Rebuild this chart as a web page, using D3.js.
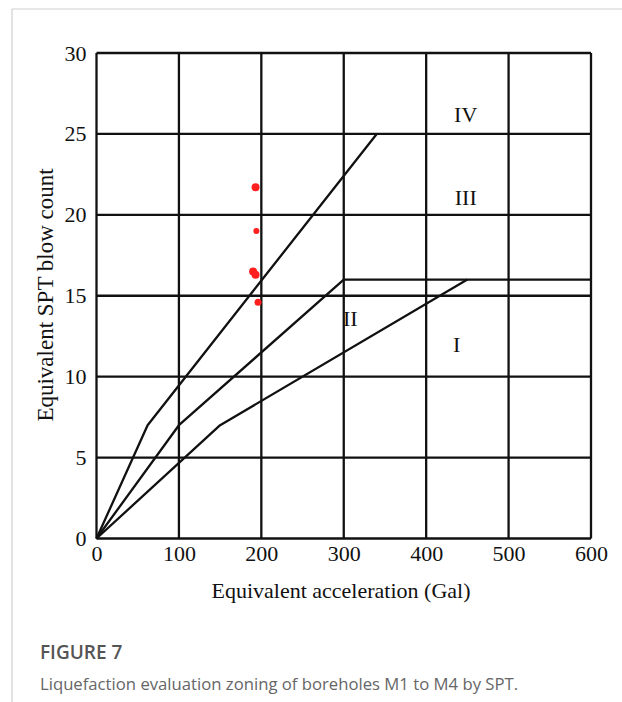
<!DOCTYPE html>
<html>
<head>
<meta charset="utf-8">
<script src="https://cdn.jsdelivr.net/npm/d3@7/dist/d3.min.js"></script>
<style>
  html, body { margin: 0; padding: 0; background: #fff; }
  svg { display: block; }
</style>
</head>
<body>
<svg id="chart" width="622" height="702"></svg>
<script>
// ---- data ----
const xTicks = [0, 100, 200, 300, 400, 500, 600];
const yTicks = [0, 5, 10, 15, 20, 25, 30];
const lineA = [[0, 0], [62, 7], [340, 25]];
const lineB = [[0, 0], [100, 7], [300, 16], [600, 16]];
const lineC = [[0, 0], [150, 7], [450, 16]];
const zoneNames = ["IV", "III", "II", "I"];
const zoneX = [448, 448, 308, 437];
const zoneY = [26.2, 21.1, 13.6, 12.0];
const pointX = [193, 194, 190, 193, 196];
const pointY = [21.7, 19.0, 16.5, 16.3, 14.6];
const pointR = [4, 3, 4, 4, 3.5];

// ---- layout ----
const svg = d3.select("#chart");
const L = 96.5, R = 591, T = 53, B = 538.5;
const x = d3.scaleLinear().domain([0, 600]).range([L, R]);
const y = d3.scaleLinear().domain([0, 30]).range([B, T]);
const serif = "'Liberation Serif', 'Times New Roman', serif";

// page frame
svg.append("line").attr("x1", 12).attr("y1", 9).attr("x2", 622).attr("y2", 9)
  .attr("stroke", "#cfcfcf").attr("stroke-width", 1.2);
svg.append("line").attr("x1", 12).attr("y1", 9).attr("x2", 12).attr("y2", 702)
  .attr("stroke", "#cfcfcf").attr("stroke-width", 1.2);

// grid
const g = svg.append("g");
g.selectAll(".vg").data(xTicks).enter().append("line")
  .attr("x1", d => x(d)).attr("x2", d => x(d)).attr("y1", y(0)).attr("y2", y(30))
  .attr("stroke", "#111").attr("stroke-width", 2.3);
g.selectAll(".hg").data(yTicks).enter().append("line")
  .attr("x1", x(0)).attr("x2", x(600)).attr("y1", d => y(d)).attr("y2", d => y(d))
  .attr("stroke", "#111").attr("stroke-width", 2.3);

// boundary lines
const line = d3.line().x(d => x(d[0])).y(d => y(d[1]));
[lineA, lineB, lineC].forEach(l => {
  g.append("path").attr("d", line(l)).attr("fill", "none")
    .attr("stroke", "#111").attr("stroke-width", 2.3).attr("stroke-linejoin", "round");
});

// axes (labels only)
const ax = svg.append("g").attr("transform", `translate(0,${B})`)
  .call(d3.axisBottom(x).tickValues(xTicks).tickSize(0).tickPadding(7).tickFormat(d3.format("d")));
ax.select(".domain").remove();
ax.selectAll("text").attr("font-family", serif).attr("font-size", 22).attr("fill", "#111");

const ay = svg.append("g").attr("transform", `translate(${L},0)`)
  .call(d3.axisLeft(y).tickValues(yTicks).tickSize(0).tickPadding(10).tickFormat(d3.format("d")));
ay.select(".domain").remove();
ay.selectAll("text").attr("font-family", serif).attr("font-size", 22).attr("fill", "#111");

// zone labels
svg.selectAll(".zone").data(zoneNames).enter().append("text")
  .attr("x", (d, i) => x(zoneX[i])).attr("y", (d, i) => y(zoneY[i]))
  .attr("text-anchor", "middle").attr("dominant-baseline", "central")
  .attr("font-family", serif).attr("font-size", 22).attr("fill", "#111")
  .text(d => d);

// points
svg.selectAll(".pt").data(pointX).enter().append("circle")
  .attr("cx", (d, i) => x(d)).attr("cy", (d, i) => y(pointY[i]))
  .attr("r", (d, i) => pointR[i]).attr("fill", "#ff1f1f");

// axis titles
svg.append("text").attr("x", 341).attr("y", 590)
  .attr("text-anchor", "middle").attr("dominant-baseline", "central")
  .attr("font-family", serif).attr("font-size", 22).attr("fill", "#111")
  .text("Equivalent acceleration (Gal)");
svg.append("text").attr("transform", "translate(45,295) rotate(-90)")
  .attr("text-anchor", "middle").attr("dominant-baseline", "central")
  .attr("font-family", serif).attr("font-size", 23).attr("fill", "#111")
  .text("Equivalent SPT blow count");

// caption
svg.append("text").attr("x", 40).attr("y", 659)
  .attr("font-family", "'Open Sans', sans-serif").attr("font-size", 19).attr("font-weight", 600)
  .attr("fill", "#555").text("FIGURE 7");
svg.append("text").attr("x", 40).attr("y", 690)
  .attr("font-family", "'Open Sans', sans-serif").attr("font-size", 16.7)
  .attr("fill", "#666").text("Liquefaction evaluation zoning of boreholes M1 to M4 by SPT.");
</script>
</body>
</html>
